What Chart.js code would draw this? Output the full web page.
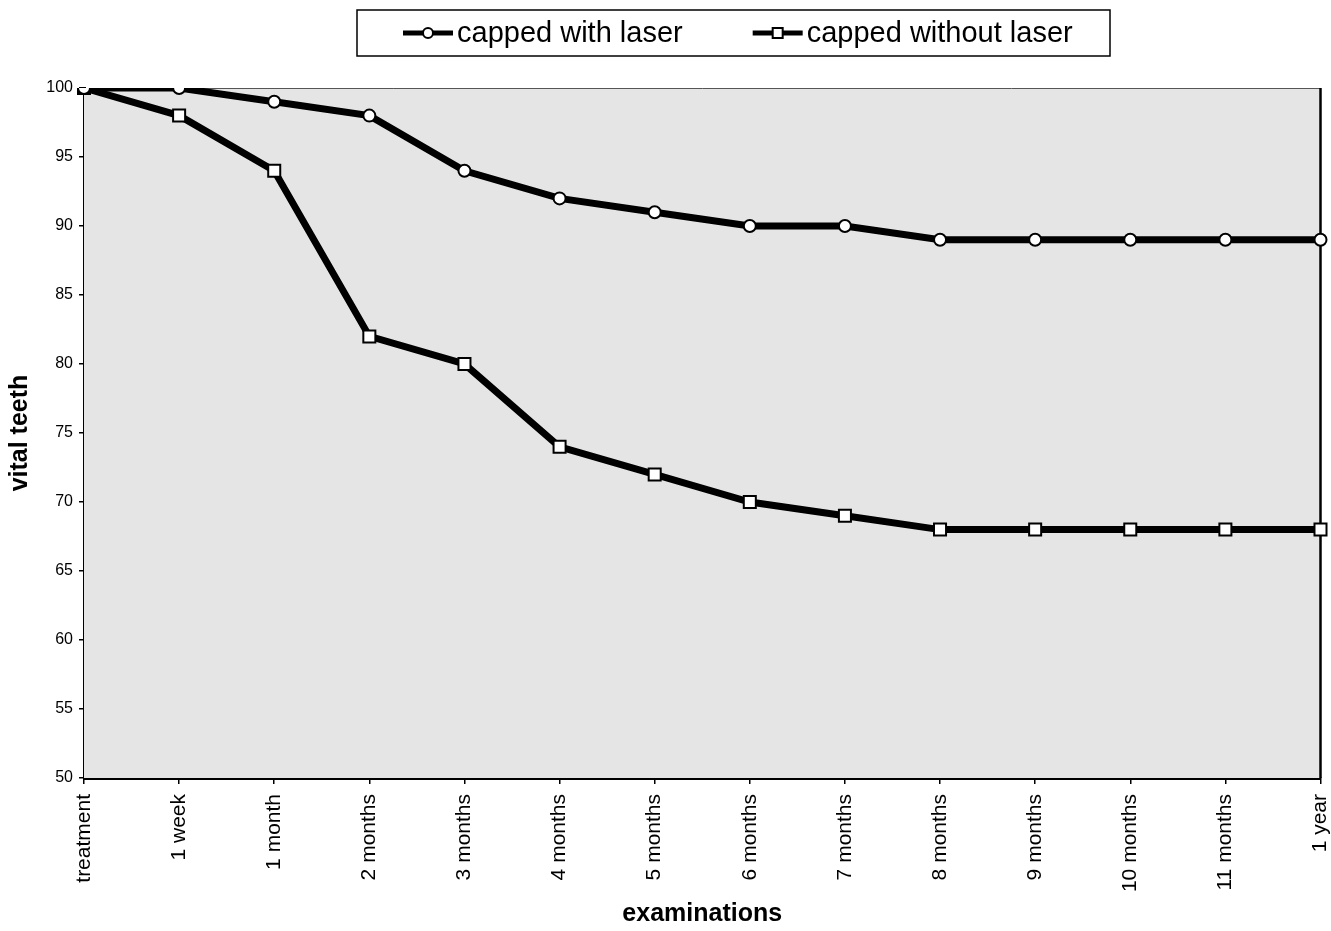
<!DOCTYPE html>
<html>
<head>
<meta charset="utf-8">
<script src="https://cdn.jsdelivr.net/npm/chart.js@4.4.1/dist/chart.umd.min.js"></script>
<style>
  html, body { margin: 0; padding: 0; background: #fff; }
  #wrap { width: 1331px; height: 931px; }
</style>
</head>
<body>
<div id="wrap"><canvas id="vitalChart" width="1331" height="931"></canvas></div>
<script>
// examinations (x axis)
const examinations = [
  "treatment", "1 week", "1 month", "2 months", "3 months", "4 months",
  "5 months", "6 months", "7 months", "8 months", "9 months", "10 months",
  "11 months", "1 year"
];

// vital teeth (%)
const withLaser = [100, 100, 99, 98, 94, 92, 91, 90, 90, 89, 89, 89, 89, 89];
const withoutLaser = [100, 98, 94, 82, 80, 74, 72, 70, 69, 68, 68, 68, 68, 68];

const seriesNames = ["capped with laser", "capped without laser"];

const FONT = "'Liberation Sans', Arial, sans-serif";

// grey plot area + frame on top/right
const plotFrame = {
  id: "plotFrame",
  beforeDatasetsDraw(chart) {
    const { ctx, chartArea: a } = chart;
    ctx.save();
    ctx.fillStyle = "#e5e5e5";
    ctx.fillRect(a.left, a.top, a.right - a.left, a.bottom - a.top);
    ctx.strokeStyle = "#555";
    ctx.lineWidth = 1;
    ctx.beginPath();
    ctx.moveTo(a.left, a.top + 0.5);
    ctx.lineTo(a.right, a.top + 0.5);
    ctx.stroke();
    ctx.strokeStyle = "#000";
    ctx.lineWidth = 2.5;
    ctx.beginPath();
    ctx.moveTo(a.right, a.top);
    ctx.lineTo(a.right, a.bottom);
    ctx.stroke();
    ctx.restore();
  },
};

// boxed legend like the original
const boxedLegend = {
  id: "boxedLegend",
  afterDraw(chart) {
    const { ctx } = chart;
    ctx.save();
    ctx.strokeStyle = "#000";
    ctx.lineWidth = 1.5;
    ctx.strokeRect(357, 10, 753, 46);

    ctx.font = "29px " + FONT;
    ctx.textBaseline = "middle";
    const y = 33;
    let x = 403;
    chart.data.datasets.forEach((ds) => {
      ctx.strokeStyle = "#000";
      ctx.lineWidth = 5;
      ctx.beginPath();
      ctx.moveTo(x, y);
      ctx.lineTo(x + 50, y);
      ctx.stroke();
      ctx.fillStyle = "#fff";
      ctx.lineWidth = 2;
      ctx.beginPath();
      if (ds.pointStyle === "rect") {
        ctx.rect(x + 20, y - 5, 10, 10);
      } else {
        ctx.arc(x + 25, y, 5, 0, Math.PI * 2);
      }
      ctx.fill();
      ctx.stroke();
      ctx.fillStyle = "#000";
      ctx.fillText(ds.label, x + 54, y + 1);
      x += 54 + ctx.measureText(ds.label).width + 70;
    });
    ctx.restore();
  },
};

new Chart(document.getElementById("vitalChart"), {
  type: "line",
  data: {
    labels: examinations,
    datasets: [
      {
        label: seriesNames[0],
        data: withLaser,
        borderColor: "#000",
        borderWidth: 7,
        pointStyle: "circle",
        pointRadius: 6,
        pointBorderWidth: 2,
        pointBackgroundColor: "#fff",
        pointBorderColor: "#000",
        tension: 0,
      },
      {
        label: seriesNames[1],
        data: withoutLaser,
        borderColor: "#000",
        borderWidth: 7,
        pointStyle: "rect",
        pointRadius: 8.5,
        pointBorderWidth: 2,
        pointBackgroundColor: "#fff",
        pointBorderColor: "#000",
        tension: 0,
      },
    ],
  },
  options: {
    responsive: false,
    animation: false,
    layout: { padding: { top: 88, right: 10, left: 0, bottom: 0 } },
    plugins: {
      legend: { display: false },
      tooltip: { enabled: false },
    },
    scales: {
      x: {
        offset: false,
        afterFit(scale) {
          scale.height = 931 - 778;
          scale.paddingRight = 0;
          scale.paddingLeft = 0;
        },
        grid: {
          drawOnChartArea: false,
          drawTicks: true,
          tickLength: 6,
          color: "#000",
          lineWidth: 1.5,
        },
        border: { display: true, color: "#000", width: 3 },
        ticks: {
          autoSkip: false,
          maxRotation: 90,
          minRotation: 90,
          padding: 10,
          color: "#000",
          font: { family: FONT, size: 21 },
        },
        title: {
          display: true,
          text: "examinations",
          color: "#000",
          font: { family: FONT, size: 25, weight: "bold" },
          padding: { top: 0, bottom: 2 },
        },
      },
      y: {
        min: 50,
        max: 100,
        afterFit(scale) { scale.width = 84; },
        grid: {
          drawOnChartArea: false,
          drawTicks: true,
          tickLength: 5,
          color: "#000",
          lineWidth: 1.5,
        },
        border: { display: true, color: "#000", width: 3 },
        ticks: {
          stepSize: 5,
          padding: 6,
          color: "#000",
          font: { family: FONT, size: 16 },
        },
        title: {
          display: true,
          text: "vital teeth",
          color: "#000",
          font: { family: FONT, size: 25, weight: "bold" },
          padding: { top: 5, bottom: 0 },
        },
      },
    },
  },
  plugins: [plotFrame, boxedLegend],
});
</script>
</body>
</html>
